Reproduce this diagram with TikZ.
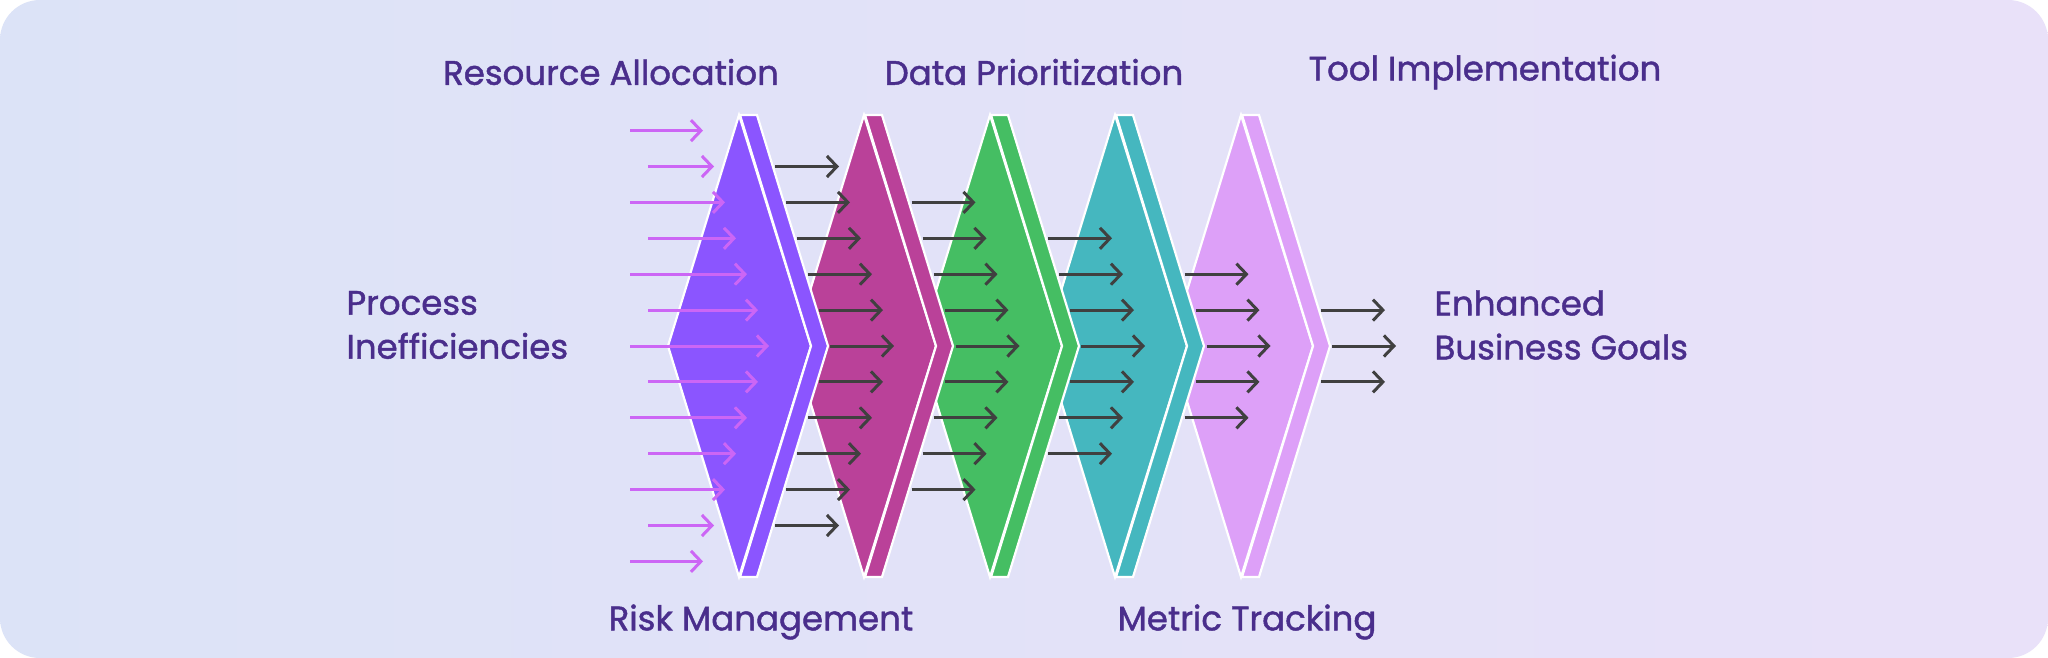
\documentclass[tikz,border=0pt]{standalone}
\usepackage{fontspec}
\setmainfont{Poppins}
\newfontfamily\pmed{Poppins}[FakeBold=1.3]
\usetikzlibrary{arrows.meta}
\definecolor{txt}{HTML}{4A2E8C}
\definecolor{cA}{HTML}{8B55FF}
\definecolor{cB}{HTML}{BA4199}
\definecolor{cC}{HTML}{45BE63}
\definecolor{cD}{HTML}{45B7BF}
\definecolor{cE}{HTML}{DDA0F8}
\definecolor{pinkar}{HTML}{CC66F5}
\definecolor{darkar}{HTML}{404040}
\definecolor{bgl}{HTML}{DCE3F7}
\definecolor{bgr}{HTML}{E9E1F9}
\begin{document}
\begin{tikzpicture}[x=1pt,y=-1pt,
  lbl/.style={text=txt,font=\pmed\fontsize{34}{44}\selectfont},
  lblL/.style={lbl,align=left,anchor=west},
  shp/.style={draw=white,line width=2.2pt,line join=miter},
  arr/.style={line width=3pt,-{Straight Barb[length=10pt,width=21pt,line width=3pt]}}]
\useasboundingbox (0,0) rectangle (2048,658);
\fill[white] (0,0) rectangle (2048,658);
\shade[left color=bgl,right color=bgr,rounded corners=40pt] (0,0) rectangle (2048,658);
% stages, right to left
\foreach \T/\c in {1241/cE,1115/cD,990/cC,864/cB,739/cA}{
  \fill[\c,shp] (\T,115) -- (\T+72,346) -- (\T,577) -- (\T-71,346) -- cycle;
  \fill[\c,shp] (\T+1,115) -- (\T+18,115) -- (\T+89,346) -- (\T+18,577) -- (\T+1,577) -- (\T+72,346) -- cycle;
}
% pink input arrows
\foreach \k in {-6,...,6}{
  \pgfmathsetmacro{\ak}{abs(\k)}
  \pgfmathsetmacro{\xs}{isodd(\ak) ? 648 : 630}
  \pgfmathsetmacro{\xe}{769-11*\ak}
  \coordinate (ps\k) at (\xs,346+35.9*\k);
  \coordinate (pe\k) at (\xe,346+35.9*\k);
  \draw[arr,pinkar] (ps\k) -- (pe\k);
}
% dark arrows
\foreach \g/\n in {0/5,1/4,2/3,3/2,4/1}{
  \foreach \k in {-\n,...,\n}{
    \pgfmathsetmacro{\ak}{abs(\k)}
    \pgfmathsetmacro{\xe}{894+125.5*\g-11*\ak}
    \coordinate (ds\g\k) at (\xe-64,346+35.9*\k);
    \coordinate (de\g\k) at (\xe,346+35.9*\k);
    \draw[arr,darkar] (ds\g\k) -- (de\g\k);
  }
}
\node[lbl] (ra) at (611,72) {Resource Allocation};
\node[lbl] (dp) at (1034,72) {Data Prioritization};
\node[lbl] (ti) at (1485,72) {Tool Implementation};
\node[lbl] (rm) at (761,622) {Risk Management};
\node[lbl] (mt) at (1247,622) {Metric Tracking};
\node[lblL] (pi) at (343,325) {Process\\Inefficiencies};
\node[lblL] (eb) at (1431,325) {Enhanced\\Business Goals};
\end{tikzpicture}
\end{document}
